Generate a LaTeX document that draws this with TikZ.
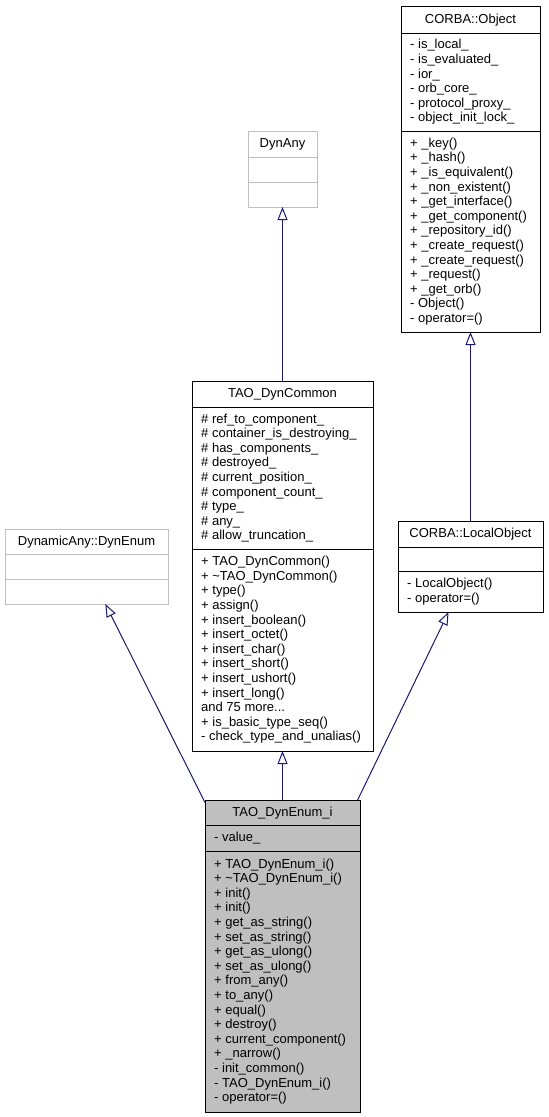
\documentclass[tikz,border=0pt]{standalone}
\usepackage{fontspec}
\setmainfont{Liberation Sans}
\usetikzlibrary{arrows.meta}
\definecolor{edgeblue}{RGB}{25,25,112}
\definecolor{boxgray}{RGB}{191,191,191}

\begin{document}
\begin{tikzpicture}[x=1pt, y=-1pt,
            classbox/.style={rectangle, draw=black, line width=1pt, outer sep=0pt, inner sep=0pt},
            greybox/.style={classbox, draw=boxgray},
            mainbox/.style={classbox, fill=boxgray},
            sepline/.style={line width=1pt, draw=black},
            greysep/.style={line width=1pt, draw=boxgray},
            titletext/.style={font=\fontsize{13}{14.6}\selectfont, inner sep=0pt, text height=9.5pt, text depth=2.5pt},
            membertext/.style={font=\fontsize{13}{14.6}\selectfont, inner sep=0pt, align=left, anchor=west},
            inherit/.style={draw=edgeblue, line width=1pt, -{Triangle[open, length=13pt, width=10pt]}},
        ]
            \useasboundingbox (0,0) rectangle (549,1117);

            %Nodes
            \node[classbox, minimum width=139pt, minimum height=326pt](obj) at (470.5,169) {};
            \node[greybox, minimum width=69pt, minimum height=76pt](dynany) at (282.5,169) {};
            \node[classbox, minimum width=181pt, minimum height=370pt](common) at (282.5,566) {};
            \node[greybox, minimum width=163pt, minimum height=75pt](dynenum) at (86.5,566.5) {};
            \node[classbox, minimum width=145pt, minimum height=91pt](localobj) at (470.5,566.5) {};
            \node[mainbox, minimum width=155pt, minimum height=312pt](enumi) at (282.5,956) {};

            %Compartments
            \draw[sepline] (obj.west |- 0,33) -- (obj.east |- 0,33);
            \draw[sepline] (obj.west |- 0,131) -- (obj.east |- 0,131);
            \draw[greysep] (dynany.west |- 0,157) -- (dynany.east |- 0,157);
            \draw[greysep] (dynany.west |- 0,182) -- (dynany.east |- 0,182);
            \draw[sepline] (common.west |- 0,407) -- (common.east |- 0,407);
            \draw[sepline] (common.west |- 0,549) -- (common.east |- 0,549);
            \draw[greysep] (dynenum.west |- 0,554) -- (dynenum.east |- 0,554);
            \draw[greysep] (dynenum.west |- 0,579) -- (dynenum.east |- 0,579);
            \draw[sepline] (localobj.west |- 0,547) -- (localobj.east |- 0,547);
            \draw[sepline] (localobj.west |- 0,571) -- (localobj.east |- 0,571);
            \draw[sepline] (enumi.west |- 0,825) -- (enumi.east |- 0,825);
            \draw[sepline] (enumi.west |- 0,851) -- (enumi.east |- 0,851);

            %Texts
            \node[titletext](objtitle) at (obj.north |- 0,19.5) {CORBA::Object};
            \node[membertext](objattr) at ([xshift=9pt]obj.west |- 0,82) {- is\_local\_\\- is\_evaluated\_\\- ior\_\\- orb\_core\_\\- protocol\_proxy\_\\- object\_init\_lock\_};
            \node[membertext](objmeth) at ([xshift=9pt]obj.west |- 0,231.5) {+ \_key()\\+ \_hash()\\+ \_is\_equivalent()\\+ \_non\_existent()\\+ \_get\_interface()\\+ \_get\_component()\\+ \_repository\_id()\\+ \_create\_request()\\+ \_create\_request()\\+ \_request()\\+ \_get\_orb()\\- Object()\\- operator=()};

            \node[titletext](dynanytitle) at (dynany.north |- 0,144) {DynAny};

            \node[titletext](commontitle) at (common.north |- 0,394) {TAO\_DynCommon};
            \node[membertext](commonattr) at ([xshift=9pt]common.west |- 0,478) {\# ref\_to\_component\_\\\# container\_is\_destroying\_\\\# has\_components\_\\\# destroyed\_\\\# current\_position\_\\\# component\_count\_\\\# type\_\\\# any\_\\\# allow\_truncation\_};
            \node[membertext](commonmeth) at ([xshift=9pt]common.west |- 0,650) {+ TAO\_DynCommon()\\+ \textasciitilde TAO\_DynCommon()\\+ type()\\+ assign()\\+ insert\_boolean()\\+ insert\_octet()\\+ insert\_char()\\+ insert\_short()\\+ insert\_ushort()\\+ insert\_long()\\and 75 more...\\+ is\_basic\_type\_seq()\\- check\_type\_and\_unalias()};

            \node[titletext](dynenumtitle) at (dynenum.north |- 0,541.5) {DynamicAny::DynEnum};

            \node[titletext](localobjtitle) at (localobj.north |- 0,534) {CORBA::LocalObject};
            \node[membertext](localobjmeth) at ([xshift=9pt]localobj.west |- 0,591.5) {- LocalObject()\\- operator=()};

            \node[titletext](enumititle) at (enumi.north |- 0,812.5) {TAO\_DynEnum\_i};
            \node[membertext](enumiattr) at ([xshift=9pt]enumi.west |- 0,838) {- value\_};
            \node[membertext](enumimeth) at ([xshift=9pt]enumi.west |- 0,981.5) {+ TAO\_DynEnum\_i()\\+ \textasciitilde TAO\_DynEnum\_i()\\+ init()\\+ init()\\+ get\_as\_string()\\+ set\_as\_string()\\+ get\_as\_ulong()\\+ set\_as\_ulong()\\+ from\_any()\\+ to\_any()\\+ equal()\\+ destroy()\\+ current\_component()\\+ \_narrow()\\- init\_common()\\- TAO\_DynEnum\_i()\\- operator=()};

            %Lines
            \draw[inherit](common.north) -- (dynany.south);
            \draw[inherit](localobj.north) -- (obj.south);
            \draw[inherit](enumi.north) -- (common.south);
            \draw[inherit](enumi) -- (dynenum);
            \draw[inherit](enumi) -- (localobj);
        \end{tikzpicture}
\end{document}
